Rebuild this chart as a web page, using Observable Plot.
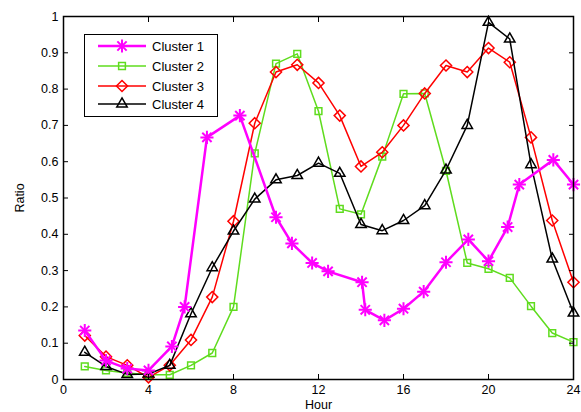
<!DOCTYPE html>
<html><head><meta charset="utf-8">
<script src="https://cdn.jsdelivr.net/npm/d3@7"></script>
<script src="https://cdn.jsdelivr.net/npm/@observablehq/plot@0.6"></script>
<style>
body{margin:0;background:#fff;font-family:"Liberation Sans",Arial,sans-serif;}
#wrap{position:relative;width:581px;height:412px;overflow:hidden}
#legend{position:absolute;left:84px;top:34px;width:134px;height:83px;border:1px solid #000;background:#fff;box-sizing:border-box}
</style></head><body><div id="wrap"></div>
<script>
const hours = [1,2,3,4,5,6,7,8,9,10,11,12,13,14,15,16,17,18,19,20,21,22,23,24];
const cluster1Hours = [1,2,3,4,5.1,5.7,6.75,8.3,10,10.75,11.7,12.45,14.05,14.2,15.1,16,16.95,18,19.05,20,20.9,21.45,23.05,24];
const cluster1 = [0.135,0.052,0.03,0.025,0.091,0.2,0.667,0.727,0.447,0.375,0.321,0.298,0.268,0.192,0.163,0.195,0.242,0.323,0.386,0.326,0.42,0.537,0.605,0.537];
const cluster2 = [0.036,0.025,0.018,0.013,0.013,0.039,0.073,0.2,0.623,0.87,0.897,0.739,0.47,0.455,0.614,0.787,0.788,0.575,0.321,0.305,0.28,0.202,0.128,0.103];
const cluster3 = [0.121,0.063,0.039,0.006,0.039,0.109,0.227,0.436,0.706,0.847,0.867,0.817,0.727,0.587,0.626,0.70,0.788,0.865,0.847,0.913,0.874,0.667,0.438,0.268];
const cluster4 = [0.075,0.036,0.014,0.015,0.039,0.181,0.308,0.409,0.497,0.55,0.562,0.596,0.568,0.427,0.41,0.438,0.479,0.577,0.70,0.984,0.938,0.592,0.332,0.183];
const seriesNames = ["Cluster 1","Cluster 2","Cluster 3","Cluster 4"];
const xTicks = [0,4,8,12,16,20,24];
const yTicks = [0,0.1,0.2,0.3,0.4,0.5,0.6,0.7,0.8,0.9,1];

const colors = ["#ff00ff","#5fdc1e","#ff0000","#000000"];
const c1 = cluster1.map((v,i)=>({x:cluster1Hours[i], y:v}));
const mk = arr => arr.map((v,i)=>({x:hours[i], y:v}));
const c2 = mk(cluster2), c3 = mk(cluster3), c4 = mk(cluster4);

const fmt = d3.format("~g");
const starR = 4.3;
const plot = Plot.plot({
  width: 581, height: 412,
  marginLeft: 63, marginRight: 8, marginTop: 16, marginBottom: 33,
  style: {fontFamily: "Liberation Sans, Arial, sans-serif", fontSize: "12.5px", background: "#fff"},
  x: {domain: [0,24]},
  y: {domain: [0,1]},
  marks: [
    Plot.line(c2, {x:"x", y:"y", stroke: colors[1], strokeWidth: 1.5}),
    Plot.dot(c2, {x:"x", y:"y", symbol:"square2", r:4.3, stroke: colors[1], fill:"none", strokeWidth:1.5}),
    Plot.line(c3, {x:"x", y:"y", stroke: colors[2], strokeWidth: 1.5}),
    Plot.dot(c3, {x:"x", y:"y", symbol:"diamond2", r:5, stroke: colors[2], fill:"none", strokeWidth:1.5}),
    Plot.line(c4, {x:"x", y:"y", stroke: colors[3], strokeWidth: 1.5}),
    Plot.dot(c4, {x:"x", y:"y", symbol:"triangle2", r:5, stroke: colors[3], fill:"none", strokeWidth:1.5}),
    Plot.line(c1, {x:"x", y:"y", stroke: colors[0], strokeWidth: 2.5}),
    Plot.dot(c1, {x:"x", y:"y", symbol:"plus", r:starR, stroke: colors[0], fill:"none", strokeWidth:2}),
    Plot.dot(c1, {x:"x", y:"y", symbol:"times", r:starR, stroke: colors[0], fill:"none", strokeWidth:2}),
    Plot.frame({stroke:"#000", strokeWidth: 1.5}),
    Plot.axisX(xTicks, {anchor:"bottom", tickSize:-5, tickPadding: 11, label:"Hour", labelAnchor:"center", labelArrow:"none", labelOffset: 29}),
    Plot.axisX(xTicks, {anchor:"top", tickSize:-5, tickFormat: () => "", label: null}),
    Plot.axisY(yTicks, {anchor:"left", tickSize:-5, tickPadding: 10, tickFormat: fmt, label:"Ratio", labelAnchor:"center", labelArrow:"none", labelOffset: 48}),
    Plot.axisY(yTicks, {anchor:"right", tickSize:-5, tickFormat: () => "", label: null})
  ]
});
const wrap = document.getElementById("wrap");
wrap.appendChild(plot);

// legend
const lg = document.createElement("div");
lg.id = "legend";
wrap.appendChild(lg);
const svg = d3.select(lg).append("svg").attr("width",132).attr("height",81);
const rowY = [11,31,51,69];
const syms = [null, d3.symbolSquare2, d3.symbolDiamond2, d3.symbolTriangle2];
seriesNames.forEach((name,i)=>{
  const g = svg.append("g").attr("transform",`translate(0,${rowY[i]})`);
  g.append("line").attr("x1",13).attr("x2",61).attr("y1",0).attr("y2",0).attr("stroke",colors[i]).attr("stroke-width", i===0?2.5:1.5);
  if (i===0) {
    g.append("path").attr("d", d3.symbol(d3.symbolPlus, Math.PI*starR*starR)()).attr("transform","translate(37,0)").attr("stroke",colors[0]).attr("stroke-width",2).attr("fill","none");
    g.append("path").attr("d", d3.symbol(d3.symbolTimes, Math.PI*starR*starR)()).attr("transform","translate(37,0)").attr("stroke",colors[0]).attr("stroke-width",2).attr("fill","none");
  } else {
    const rr = i===1?4.3:5;
    g.append("path").attr("d", d3.symbol(syms[i], Math.PI*rr*rr)()).attr("transform","translate(37,0)").attr("stroke",colors[i]).attr("stroke-width",1.5).attr("fill","none");
  }
  g.append("text").attr("x",67).attr("y",0).attr("dy","0.35em").attr("font-size","13px").attr("font-family","Liberation Sans, Arial, sans-serif").text(name);
});
</script></body></html>
